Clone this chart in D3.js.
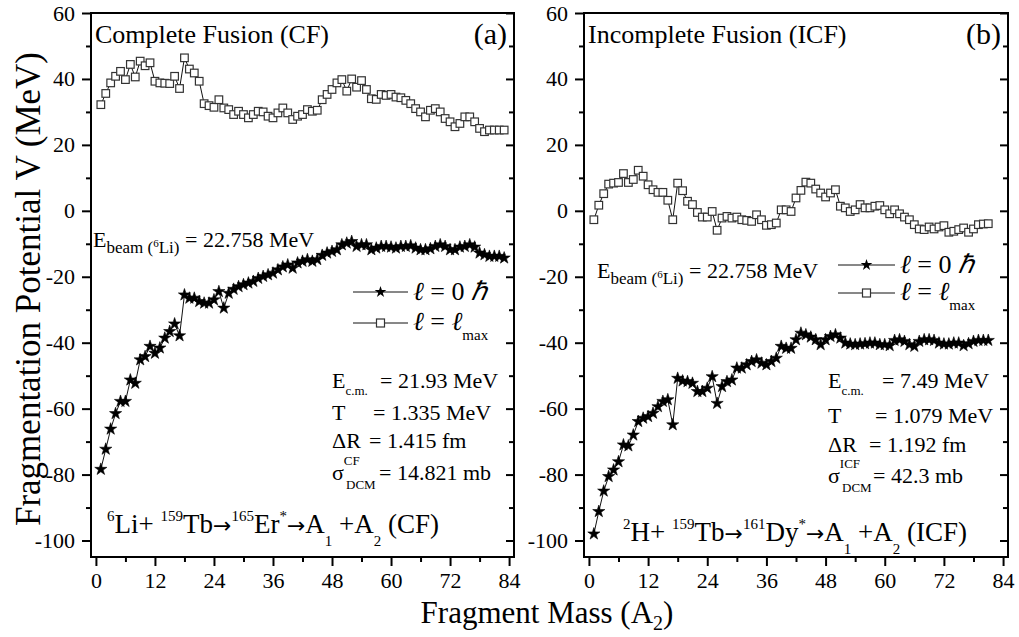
<!DOCTYPE html>
<html>
<head>
<meta charset="utf-8">
<script src="https://cdn.jsdelivr.net/npm/d3@7"></script>
<style>
body { margin: 0; background: #fff; }
svg { display: block; font-family: "Liberation Serif", "Times New Roman", serif; }
.axis path.domain { display: none; }
.axis line { stroke: #000; stroke-width: 2; }
.axis text { font-family: "Liberation Serif", "Times New Roman", serif; font-size: 22px; fill: #000; }
</style>
</head>
<body>
<svg id="chart" width="1019" height="637"></svg>
<script>
// fragment masses A2 (integers)
const massCF = d3.range(1, 84);
const massICF = d3.range(1, 82);

// 6Li + 159Tb (CF), l = 0 hbar
const cfL0 = [
  -78.4, -72.3, -66.2, -61.5, -57.8, -57.8, -51.3, -52.3, -45.2, -44.2,
  -41.1, -43.2, -41.6, -38.6, -36.6, -34.3, -37.9, -25.5, -26.5, -26.5,
  -27.5, -28.0, -28.0, -27.0, -24.5, -29.5, -25.0, -23.8, -23.0, -22.4,
  -21.9, -21.4, -20.5, -19.9, -19.4, -18.9, -17.9, -17.0, -16.4, -17.4,
  -15.8, -15.3, -14.8, -15.3, -14.8, -13.5, -12.8, -12.3, -11.8, -10.3,
  -9.8, -9.3, -10.8, -10.3, -10.3, -11.8, -11.3, -10.8, -10.8, -11.0,
  -11.3, -10.8, -10.8, -10.6, -11.3, -11.8, -11.8, -11.5, -10.8, -10.3,
  -10.8, -11.8, -11.8, -11.0, -10.8, -10.3, -11.0, -12.8, -13.3, -13.8,
  -13.8, -13.8, -14.3
];
// 6Li + 159Tb (CF), l = lmax
const cfLmax = [
  32.2, 35.6, 38.8, 40.8, 42.3, 39.8, 44.4, 40.6, 45.4, 44.0,
  44.9, 39.3, 38.8, 38.7, 38.6, 40.8, 37.1, 46.4, 43.0, 41.8,
  39.3, 32.5, 31.9, 31.4, 33.7, 31.2, 30.7, 29.2, 30.2, 29.2,
  28.2, 29.2, 30.2, 30.0, 28.7, 28.2, 29.7, 31.2, 29.7, 27.7,
  28.7, 29.2, 30.7, 30.2, 30.5, 33.7, 35.3, 36.8, 38.8, 39.8,
  36.3, 40.0, 37.5, 39.5, 36.8, 34.0, 33.8, 35.3, 35.0, 35.3,
  34.5, 34.3, 33.5, 32.5, 31.0, 30.0, 28.5, 30.5, 31.0, 30.0,
  28.0, 27.0, 25.5, 26.5, 28.5, 28.5, 27.0, 25.0, 24.0, 24.5,
  24.5, 24.5, 24.5
];
// 2H + 159Tb (ICF), l = 0 hbar
const icfL0 = [
  -98.0, -91.2, -85.0, -80.6, -78.6, -76.1, -71.0, -71.3, -68.0, -63.9,
  -62.9, -62.4, -61.4, -59.4, -57.8, -57.3, -64.9, -50.8, -51.6, -51.8,
  -52.3, -54.8, -54.8, -53.8, -50.3, -58.4, -53.3, -51.8, -51.3, -47.7,
  -47.7, -46.7, -45.7, -45.2, -46.2, -46.7, -45.7, -44.7, -41.1, -41.7,
  -41.7, -39.1, -37.1, -37.6, -38.3, -39.1, -40.6, -39.1, -38.1, -37.6,
  -38.6, -40.1, -40.4, -40.6, -40.4, -40.3, -40.1, -40.1, -40.6, -40.6,
  -40.9, -39.3, -39.1, -39.6, -40.6, -41.1, -39.6, -39.1, -39.1, -39.3,
  -40.1, -40.4, -40.4, -40.1, -40.1, -40.9, -40.3, -39.6, -39.3, -39.3,
  -39.3
];
// 2H + 159Tb (ICF), l = lmax
const icfLmax = [
  -2.7, 1.7, 5.2, 8.1, 8.4, 8.6, 11.3, 8.6, 9.5, 12.3,
  10.5, 7.9, 6.4, 5.6, 5.6, 3.2, -2.7, 8.4, 6.1, 2.9,
  1.9, -0.5, -1.9, -1.9, -0.2, -5.9, -2.2, -1.7, -2.2, -1.9,
  -2.7, -2.9, -3.2, -1.2, -2.7, -4.4, -4.2, -3.7, 0.3, 0.3,
  -0.2, 3.9, 6.2, 8.7, 8.4, 6.6, 5.4, 4.2, 5.4, 6.4,
  1.4, 0.9, -0.2, 0.3, 1.9, 0.9, 0.9, 1.4, 1.6, 0.3,
  -0.9, 0.3, -0.9, -1.9, -2.7, -4.2, -5.5, -5.7, -4.9, -5.5,
  -4.9, -4.5, -6.5, -6.2, -5.7, -5.2, -6.5, -5.5, -4.2, -4.0,
  -3.9
];

const xTicks = [0, 12, 24, 36, 48, 60, 72, 84];
const xMinor = [6, 18, 30, 42, 54, 66, 78];
const yTicks = [60, 40, 20, 0, -20, -40, -60, -80, -100];
const yMinor = [50, 30, 10, -10, -30, -50, -70, -90];

const svg = d3.select("#chart");
const TOP = 13, BOTTOM = 557;
const ARROW = {t: "\u2192", f: "DejaVu Sans", s: 22};

// text with sub/superscript pieces; o = baseline offset, s = font size
// offsets go through dy so text-anchor keeps one chunk
function rich(g, x, y, size, parts, anchor) {
  const t = g.append("text")
    .attr("x", x).attr("y", y)
    .attr("font-size", size)
    .attr("text-anchor", anchor || "start")
    .style("white-space", "pre");
  let cur = 0;
  parts.forEach(p => {
    const off = p.o || 0;
    const s = t.append("tspan").text(p.t);
    if (off !== cur) s.attr("dy", off - cur);
    cur = off;
    if (p.s) s.attr("font-size", p.s);
    if (p.x != null) s.attr("x", p.x);
    if (p.i) s.attr("font-style", "italic");
    if (p.f) s.attr("font-family", p.f);
  });
  return t;
}

function drawPanel(p) {
  const x = d3.scaleLinear().domain([-1, 85]).range([p.left, p.right]);
  const y = d3.scaleLinear().domain([-105, 60]).range([BOTTOM, TOP]);
  const g = svg.append("g");
  const fmt = d => String(d);

  // axes: major + minor, outward on left/bottom, inward on right
  g.append("g").attr("class", "axis")
    .attr("transform", "translate(0," + BOTTOM + ")")
    .call(d3.axisBottom(x).tickValues(xTicks).tickFormat(fmt).tickSize(9).tickPadding(6));
  g.append("g").attr("class", "axis")
    .attr("transform", "translate(0," + BOTTOM + ")")
    .call(d3.axisBottom(x).tickValues(xMinor).tickSize(5).tickFormat(""));
  g.append("g").attr("class", "axis")
    .attr("transform", "translate(" + p.left + ",0)")
    .call(d3.axisLeft(y).tickValues(yTicks).tickFormat(fmt).tickSize(9).tickPadding(7));
  g.append("g").attr("class", "axis")
    .attr("transform", "translate(" + p.left + ",0)")
    .call(d3.axisLeft(y).tickValues(yMinor).tickSize(5).tickFormat(""));
  g.append("g").attr("class", "axis")
    .attr("transform", "translate(" + p.right + ",0)")
    .call(d3.axisRight(y).tickValues(yTicks).tickSize(-8).tickFormat(""));
  g.append("g").attr("class", "axis")
    .attr("transform", "translate(" + p.right + ",0)")
    .call(d3.axisRight(y).tickValues(yMinor).tickSize(-5).tickFormat(""));

  g.append("rect")
    .attr("x", p.left).attr("y", TOP)
    .attr("width", p.right - p.left).attr("height", BOTTOM - TOP)
    .attr("fill", "none").attr("stroke", "#000").attr("stroke-width", 2);

  const line = d3.line().x(d => x(d[0])).y(d => y(d[1]));
  const l0 = p.mass.map((m, i) => [m, p.l0[i]]);
  const lmax = p.mass.map((m, i) => [m, p.lmax[i]]);

  [l0, lmax].forEach(s => {
    g.append("path").datum(s).attr("d", line)
      .attr("fill", "none").attr("stroke", "#111").attr("stroke-width", 1);
  });

  const star = d3.symbol().type(d3.symbolStar).size(46);
  g.selectAll(".star").data(l0).join("path")
    .attr("class", "star")
    .attr("transform", d => "translate(" + x(d[0]) + "," + y(d[1]) + ")")
    .attr("d", star).attr("fill", "#000")
    .attr("stroke", "#000").attr("stroke-width", 0.6);

  g.selectAll(".sq").data(lmax).join("rect")
    .attr("class", "sq")
    .attr("x", d => x(d[0]) - 3.8).attr("y", d => y(d[1]) - 3.8)
    .attr("width", 7.6).attr("height", 7.6)
    .attr("fill", "#fff").attr("stroke", "#333").attr("stroke-width", 1.2);

  // titles
  rich(g, p.left + 4, 43, 26, [{t: p.title}]);
  rich(g, p.right - 7, 44, 30, [{t: p.tag}], "end");

  // beam energy
  const eb = p.ebeam;
  rich(g, eb[0], eb[1], 22, [
    {t: "E"}, {t: "beam (", s: 17, o: 6}, {t: "6", s: 11, o: 0},
    {t: "Li)", s: 17, o: 6}, {t: " = 22.758 MeV", o: 0}
  ]);

  // legend
  const lg = p.legend;
  g.append("line").attr("x1", lg.x0).attr("x2", lg.x1).attr("y1", lg.y0).attr("y2", lg.y0)
    .attr("stroke", "#111").attr("stroke-width", 1);
  g.append("path").attr("d", d3.symbol().type(d3.symbolStar).size(42)())
    .attr("transform", "translate(" + ((lg.x0 + lg.x1) / 2) + "," + lg.y0 + ")");
  g.append("line").attr("x1", lg.x0).attr("x2", lg.x1).attr("y1", lg.y1).attr("y2", lg.y1)
    .attr("stroke", "#111").attr("stroke-width", 1);
  g.append("rect").attr("x", (lg.x0 + lg.x1) / 2 - 4).attr("y", lg.y1 - 4)
    .attr("width", 8).attr("height", 8)
    .attr("fill", "#fff").attr("stroke", "#333").attr("stroke-width", 1.2);
  rich(g, lg.x1 + 5, lg.y0 + 8, 26, [
    {t: "\u2113", i: true}, {t: " = 0 "}, {t: "\u210F", i: true}
  ]);
  rich(g, lg.x1 + 5, lg.y1 + 7, 26, [
    {t: "\u2113", i: true}, {t: " = "}, {t: "\u2113", i: true},
    {t: "max", s: 15, o: 10}
  ]);

  // parameters
  const pr = p.params;
  rich(g, pr.x, pr.y[0], 22, [
    {t: "E"}, {t: "c.m.", s: 13, o: 7}, {t: "= " + pr.ecm, o: 0, x: pr.eqx[0]}
  ]);
  rich(g, pr.x, pr.y[1], 22, [
    {t: "T"}, {t: "= " + pr.t, x: pr.eqx[1]}
  ]);
  rich(g, pr.x, pr.y[2], 22, [
    {t: "\u0394R"}, {t: "= " + pr.dr, x: pr.eqx[2]}
  ]);
  rich(g, pr.x, pr.y[3], 22, [
    {t: "\u03C3"}, {t: pr.sup, s: 13, o: -15}, {t: "DCM", s: 13, o: 9, x: pr.x + 14},
    {t: "= " + pr.sig, o: 0, x: pr.eqx[3]}
  ]);

  // reaction
  const r = p.reaction;
  rich(g, r.x, r.y, 27, [
    {t: r.proj[0], s: 15, o: -12}, {t: r.proj[1] + "+ ", o: 0},
    {t: "159", s: 15, o: -12}, {t: "Tb", o: 0}, ARROW,
    {t: r.cn[0], s: 15, o: -12}, {t: r.cn[1], o: 0},
    {t: "*", s: 15, o: -12}, Object.assign({}, ARROW, {o: 0}), {t: "A"},
    {t: "1", s: 15, o: 13}, {t: " +A", o: 0},
    {t: "2", s: 15, o: 13}, {t: " (" + r.tag + ")", o: 0}
  ]);
}

drawPanel({
  left: 91, right: 514, mass: massCF, l0: cfL0, lmax: cfLmax,
  title: "Complete Fusion (CF)", tag: "(a)",
  ebeam: [93, 247],
  legend: {x0: 353, x1: 408, y0: 292, y1: 323},
  params: {x: 332, y: [388, 420, 448, 480], eqx: [380, 373, 369, 379],
           ecm: "21.93 MeV", t: "1.335 MeV", dr: "1.415 fm", sup: "CF", sig: "14.821 mb"},
  reaction: {x: 107, y: 533, proj: ["6", "Li"], cn: ["165", "Er"], tag: "CF"}
});

drawPanel({
  left: 584, right: 1008, mass: massICF, l0: icfL0, lmax: icfLmax,
  title: "Incomplete Fusion (ICF)", tag: "(b)",
  ebeam: [597, 278],
  legend: {x0: 838, x1: 895, y0: 265, y1: 293},
  params: {x: 828, y: [388, 423, 452, 483], eqx: [882, 875, 869, 873],
           ecm: "7.49 MeV", t: "1.079 MeV", dr: "1.192 fm", sup: "ICF", sig: "42.3 mb"},
  reaction: {x: 623, y: 541, proj: ["2", "H"], cn: ["161", "Dy"], tag: "ICF"}
});

// axis titles
svg.append("text")
  .attr("transform", "translate(40,289) rotate(-90)")
  .attr("text-anchor", "middle").attr("font-size", 35)
  .text("Fragmentation Potential V (MeV)");

rich(svg, 547, 623, 31, [
  {t: "Fragment Mass (A"}, {t: "2", s: 20, o: 7}, {t: ")", o: 0}
], "middle");
</script>
</body>
</html>
